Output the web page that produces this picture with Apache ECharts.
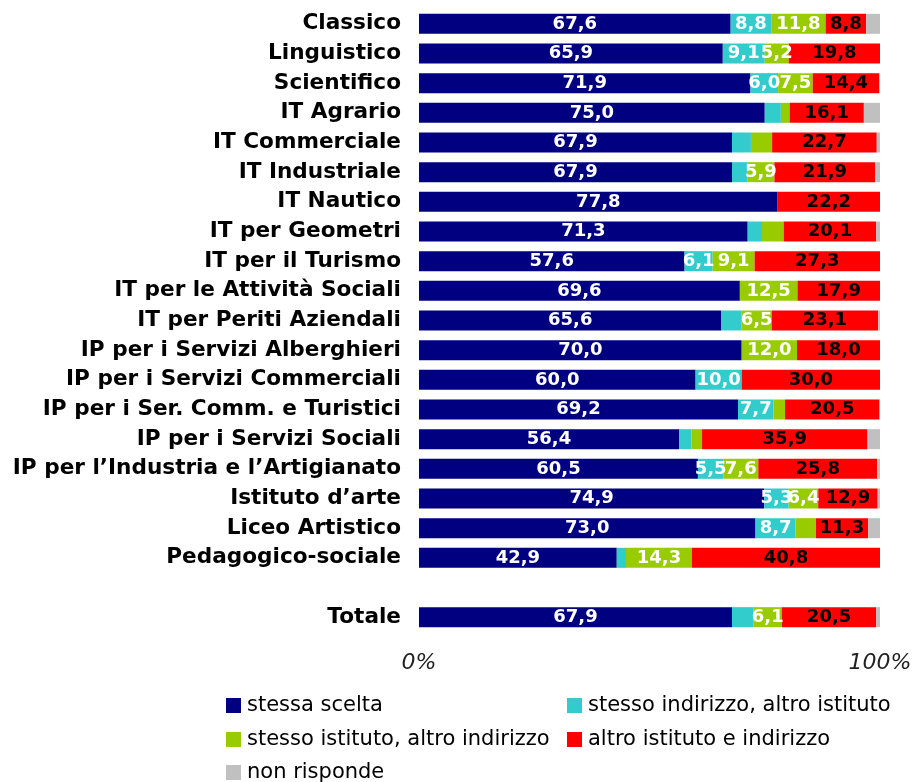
<!DOCTYPE html>
<html>
<head>
<meta charset="utf-8">
<script src="https://cdn.jsdelivr.net/npm/echarts@6/dist/echarts.min.js"></script>
<style>
  html, body { margin: 0; padding: 0; background: #fff; }
  #chart { width: 912px; height: 782px; }
</style>
</head>
<body>
<div id="chart"></div>
<script>
// categorie (riga vuota prima del totale)
const categories = [
  'Classico', 'Linguistico', 'Scientifico', 'IT Agrario', 'IT Commerciale',
  'IT Industriale', 'IT Nautico', 'IT per Geometri', 'IT per il Turismo',
  'IT per le Attività Sociali', 'IT per Periti Aziendali', 'IP per i Servizi Alberghieri',
  'IP per i Servizi Commerciali', 'IP per i Ser. Comm. e Turistici', 'IP per i Servizi Sociali',
  'IP per l’Industria e l’Artigianato', 'Istituto d’arte', 'Liceo Artistico',
  'Pedagogico-sociale', '', 'Totale'
]

const seriesNames = [
  'stessa scelta',
  'stesso indirizzo, altro istituto',
  'stesso istituto, altro indirizzo',
  'altro istituto e indirizzo',
  'non risponde'
]

const stessaScelta = [67.6, 65.9, 71.9, 75.0, 67.9, 67.9, 77.8, 71.3, 57.6, 69.6, 65.6, 70.0, 60.0, 69.2, 56.4, 60.5, 74.9, 73.0, 42.9, '-', 67.9]
const stessoIndirizzo = [8.8, 9.1, 6.0, 3.5, 4.1, 3.3, 0, 3.1, 6.1, 0, 4.4, 0, 10.0, 7.7, 2.7, 5.5, 5.3, 8.7, 2.0, '-', 4.7]
const stessoIstituto = [11.8, 5.2, 7.5, 1.9, 4.6, 5.9, 0, 4.7, 9.1, 12.5, 6.5, 12.0, 0, 2.5, 2.3, 7.6, 6.4, 4.4, 14.3, '-', 6.1]
const altroIstituto = [8.8, 19.8, 14.4, 16.1, 22.7, 21.9, 22.2, 20.1, 27.3, 17.9, 23.1, 18.0, 30.0, 20.5, 35.9, 25.8, 12.9, 11.3, 40.8, '-', 20.5]
const nonRisponde = [3.0, 0, 0.2, 3.5, 0.7, 1.0, 0, 0.8, 0, 0, 0.4, 0, 0, 0.1, 2.7, 0.6, 0.5, 2.6, 0, '-', 0.8]

const colors = ['#000080', '#33CCCC', '#99CC00', '#FF0000', '#C0C0C0']
const labelColors = ['#fff', '#fff', '#fff', '#000', '#000']
const FONT = 'DejaVu Sans'

const chart = echarts.init(document.getElementById('chart'))

// etichette solo per i segmenti >= 5
const fmt = (p) => (typeof p.value === 'number' && p.value >= 5) ? p.value.toFixed(1).replace('.', ',') : ''

const makeSeries = (name, data, i) => ({
  name: name,
  type: 'bar',
  stack: 'tot',
  data: data,
  barWidth: 20,
  itemStyle: { color: colors[i] },
  label: {
    show: i < 4,
    position: 'inside',
    formatter: fmt,
    color: labelColors[i],
    fontFamily: FONT,
    fontWeight: 'bold',
    fontSize: 18
  },
  emphasis: { disabled: true }
})

// una legenda per voce, disposte su due colonne
const legendItem = (name, left, top) => ({
  left: left,
  top: top,
  padding: 0,
  itemWidth: 15,
  itemHeight: 15,
  selectedMode: false,
  icon: 'rect',
  data: [name],
  textStyle: { fontFamily: FONT, fontSize: 21, color: '#000', lineHeight: 18, padding: [0, 0, 0, 1] }
})

const option = {
  animation: false,
  textStyle: { fontFamily: FONT },
  grid: { left: 419, right: 32, top: 9, height: 623, outerBoundsMode: 'none' },
  xAxis: {
    type: 'value',
    min: 0,
    max: 100,
    interval: 100,
    axisLine: { show: false },
    axisTick: { show: false },
    splitLine: { show: false },
    axisLabel: {
      formatter: '{value}%',
      fontFamily: FONT,
      fontStyle: 'italic',
      fontSize: 22,
      color: '#222',
      margin: 20
    }
  },
  yAxis: {
    type: 'category',
    data: categories,
    inverse: true,
    axisLine: { show: false },
    axisTick: { show: false },
    axisLabel: {
      fontFamily: FONT,
      fontWeight: 'bold',
      fontSize: 21.6,
      color: '#000',
      margin: 18
    }
  },
  legend: [
    legendItem(seriesNames[0], 226, 695),
    legendItem(seriesNames[1], 567, 695),
    legendItem(seriesNames[2], 226, 729),
    legendItem(seriesNames[3], 567, 729),
    legendItem(seriesNames[4], 226, 762)
  ],
  series: [
    makeSeries(seriesNames[0], stessaScelta, 0),
    makeSeries(seriesNames[1], stessoIndirizzo, 1),
    makeSeries(seriesNames[2], stessoIstituto, 2),
    makeSeries(seriesNames[3], altroIstituto, 3),
    makeSeries(seriesNames[4], nonRisponde, 4)
  ]
}

chart.setOption(option)
</script>
</body>
</html>
